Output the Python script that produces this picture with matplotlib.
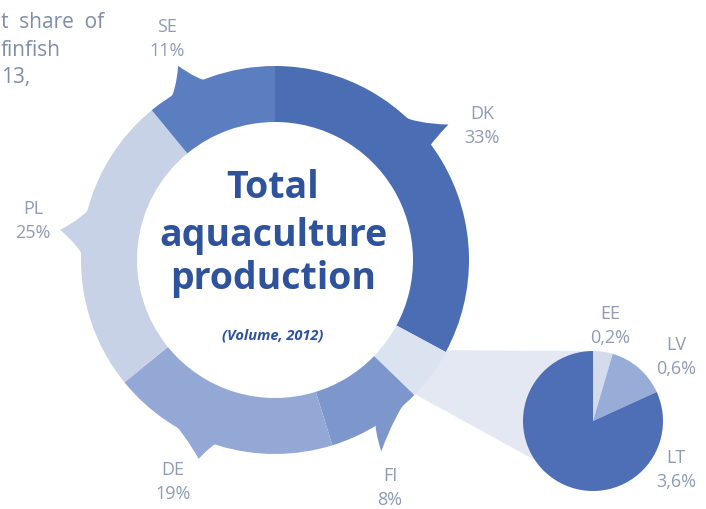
"""
    donut chart of total aquaculture production by country, baltic part zoomed
"""

import numpy as np
import matplotlib
matplotlib.use("Agg")
import matplotlib.pyplot as plt
from matplotlib.path import Path
from matplotlib.patches import PathPatch, Polygon

plt.rcParams["font.family"] = ["Open Sans", "DejaVu Sans"]

# ring, clockwise from the top
ring_names = ["DK", "Baltic", "FI", "DE", "PL", "SE"]
baltic_names = ["EE", "LV", "LT"]
baltic_shares = [0.2, 0.6, 3.6]
ring_shares = [33, sum(baltic_shares), 8, 19, 25, 11]
ring_labels = ["DK\n33%", "", "FI\n8%", "DE\n19%", "PL\n25%", "SE\n11%"]
baltic_labels = ["EE\n0,2%", "LV\n0,6%", "LT\n3,6%"]

ring_colors = ["#4a6db4", "#dbe2f0", "#7d96cb", "#93a8d5", "#c8d2e6", "#5b7ec0"]
baltic_colors = ["#d3dbec", "#97acd6", "#4e6fb5"]
label_color = "#8e9bb7"
title_color = "#2e539c"

cx, cy, R, W = 275, 249, 194, 56
px, py, pr = 593, 88, 70

fig = plt.figure(figsize=(7.06, 5.10), dpi=100)
ax = fig.add_axes([0, 0, 1, 1])


def polar(a, r, x0=cx, y0=cy):
    a = np.radians(a)
    return x0 + r * np.cos(a), y0 + r * np.sin(a)


# angles of the ring wedges
fr = np.array(ring_shares) / sum(ring_shares)
ends = 90 - 360 * np.cumsum(fr)
starts = np.concatenate([[90], ends[:-1]])

# connector between baltic wedge and the small pie
b0, b1 = starts[1], ends[1]
conn = [polar(b0, R - 4), (px, py + pr), polar(214, pr, px, py), polar(b1, R - 4)]
ax.add_patch(Polygon(conn, closed=True, facecolor="#e3e8f3", edgecolor="none"))

# speech bubble tails: tip angle, tip distance, base angles
tails = {"DK": (38, 220, 50, 36), "FI": (299, 219, 316, 302),
         "DE": (249, 213, 236, 253), "PL": (172, 217, 163, 180),
         "SE": (116.5, 217, 124, 110)}
for name, col in zip(ring_names, ring_colors):
    if name not in tails:
        continue
    ta, td, a1, a2 = tails[name]
    verts = [polar(a1, R - 4), polar((a1 + ta) / 2, R + 2), polar(ta, td),
             polar((a2 + ta) / 2, R + 2), polar(a2, R - 4), polar(a1, R - 4)]
    codes = [Path.MOVETO, Path.CURVE3, Path.CURVE3, Path.CURVE3, Path.CURVE3,
             Path.CLOSEPOLY]
    ax.add_patch(PathPatch(Path(verts, codes), facecolor=col, edgecolor="none"))

ax.pie(ring_shares, colors=ring_colors, center=(cx, cy), radius=R,
       startangle=90, counterclock=False,
       wedgeprops=dict(width=W, edgecolor="none"))
ax.pie(baltic_shares, colors=baltic_colors, center=(px, py), radius=pr,
       startangle=90, counterclock=False, wedgeprops=dict(edgecolor="none"))

# labels
ring_label_pos = {"DK": (482, 384), "FI": (390, 22), "DE": (173, 28),
                  "PL": (33, 289), "SE": (167, 471)}
for name, lab in zip(ring_names, ring_labels):
    if name in ring_label_pos:
        x, y = ring_label_pos[name]
        ax.text(x, y, lab, ha="center", va="center", fontsize=13,
                color=label_color, linespacing=1.4)
baltic_label_pos = [(610, 184), (676, 153), (676, 40)]
for (x, y), lab in zip(baltic_label_pos, baltic_labels):
    ax.text(x, y, lab, ha="center", va="center", fontsize=13,
            color=label_color, linespacing=1.4)

# centre title
for txt, y in zip(["Total", "aquaculture", "production"], [312, 264, 221]):
    ax.text(cx - 2, y, txt, ha="center", va="baseline", fontsize=27,
            fontweight="bold", color=title_color)
ax.text(cx - 2, 175, "(Volume, 2012)", ha="center", va="center", fontsize=10.5,
        fontweight="bold", fontstyle="italic", color=title_color)

# text at the corner, cut by the edge of the picture
for txt, y in [("t  share  of", 488), ("finfish", 460), ("13,", 432)]:
    ax.text(1, y, txt, ha="left", va="center", fontsize=15, color="#7f8dab")

ax.set_xlim(0, 706)
ax.set_ylim(0, 510)
ax.set_aspect("equal")
ax.axis("off")
fig.savefig("out.png", dpi=100)
